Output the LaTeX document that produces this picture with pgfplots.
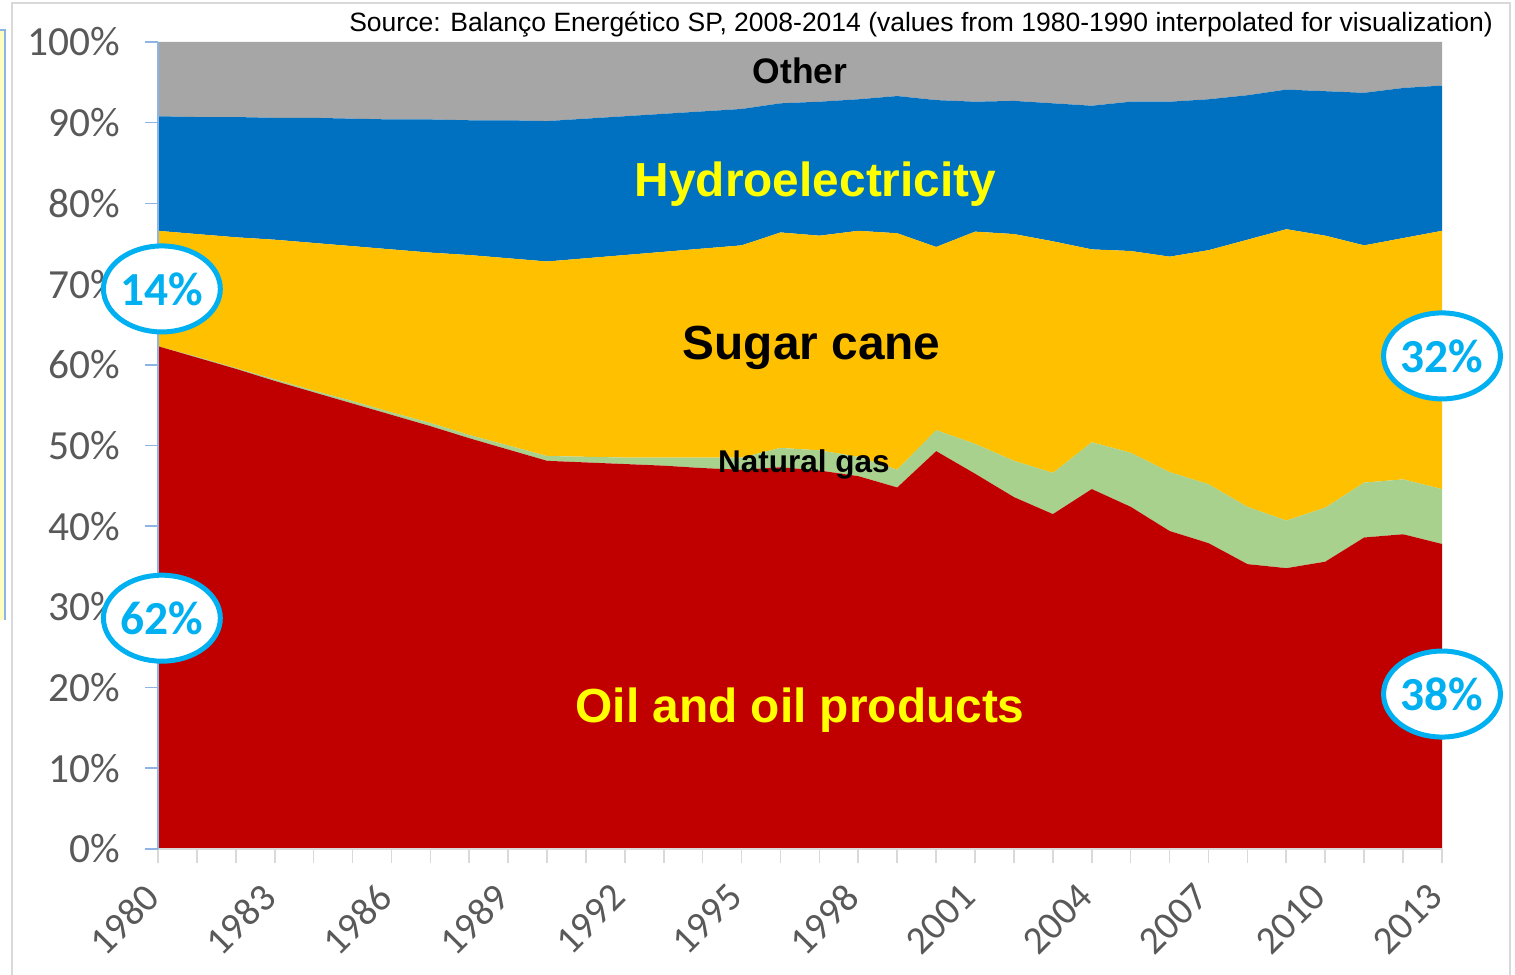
\documentclass[border=0pt]{standalone}
\usepackage{fontspec}
\setmainfont{Liberation Sans}
\newfontfamily\calibri{Carlito}
\usepackage{pgfplots}
\usepackage{pgfplotstable}
\pgfplotsset{compat=1.18}
\usetikzlibrary{shapes.geometric}
\definecolor{oilred}{HTML}{C00000}
\definecolor{gasgreen}{HTML}{A9D18E}
\definecolor{sugargold}{HTML}{FFC000}
\definecolor{hydroblue}{HTML}{0070C0}
\definecolor{othergray}{HTML}{A6A6A6}
\definecolor{ringcyan}{HTML}{00B0F0}
\definecolor{ticklab}{HTML}{595959}
\definecolor{tickgray}{HTML}{D9D9D9}
\definecolor{axblue}{HTML}{8EB4E3}
\definecolor{labyellow}{HTML}{FFFF00}

\pgfplotstableread{
year oil gas sugar hydro other
1980 62.3 0.0 14.3 14.2 9.2
1981 60.9 0.1 15.2 14.5 9.3
1982 59.5 0.1 16.2 14.9 9.3
1983 58.0 0.2 17.3 15.1 9.4
1984 56.6 0.2 18.3 15.5 9.4
1985 55.2 0.3 19.2 15.8 9.5
1986 53.8 0.3 20.2 16.1 9.6
1987 52.4 0.4 21.1 16.5 9.6
1988 50.9 0.4 22.3 16.7 9.7
1989 49.5 0.5 23.2 17.1 9.7
1990 48.1 0.6 24.1 17.4 9.8
1991 47.9 0.7 24.6 17.3 9.5
1992 47.7 0.8 25.1 17.2 9.2
1993 47.5 1.0 25.5 17.1 8.9
1994 47.2 1.3 25.9 17.0 8.6
1995 47.0 1.5 26.3 16.9 8.3
1996 47.3 2.4 26.7 16.0 7.6
1997 46.9 2.5 26.6 16.6 7.4
1998 46.2 2.4 28.0 16.3 7.1
1999 44.8 2.2 29.3 17.0 6.7
2000 49.3 2.6 22.7 18.2 7.2
2001 46.5 3.7 26.3 16.1 7.4
2002 43.6 4.5 28.1 16.5 7.3
2003 41.5 5.1 28.7 17.1 7.6
2004 44.6 5.8 23.9 17.8 7.9
2005 42.4 6.7 25.0 18.5 7.4
2006 39.4 7.3 26.7 19.2 7.4
2007 37.9 7.3 29.0 18.7 7.1
2008 35.3 7.1 33.1 17.9 6.6
2009 34.8 5.9 36.1 17.3 5.9
2010 35.6 6.7 33.7 17.9 6.1
2011 38.6 6.8 29.4 18.9 6.3
2012 39.0 6.8 29.9 18.6 5.7
2013 37.8 6.8 32.0 18.0 5.4
}\energydata

\begin{document}
\begin{tikzpicture}
\useasboundingbox (-79bp,-63bp) rectangle (678.5bp,424.5bp);
% outer chart frame
\draw[tickgray, line width=1bp] (-73bp,-70bp) rectangle (676bp,423bp);
% cropped neighbouring box at the left edge
\fill[yellow!25] (-82bp,114.5bp) rectangle (-76.5bp,409.5bp);
\draw[axblue, line width=0.8bp] (-76.5bp,114.5bp) -- (-76.5bp,409.5bp) -- (-82bp,409.5bp);
\begin{axis}[
  at={(0,0)}, anchor=south west,
  scale only axis, width=642bp, height=403.5bp,
  xmin=1980, xmax=2013, ymin=0, ymax=100,
  stack plots=y, area style,
  clip=false,
  axis x line*=bottom, axis y line*=left,
  x axis line style={draw=tickgray, line width=0.8bp, -},
  y axis line style={draw=axblue, line width=0.8bp, -},
  xtick={1980,1983,...,2013},
  minor xtick={1980,...,2013},
  ytick={0,10,...,100},
  tick align=outside,
  major tick length=6.5bp,
  minor tick length=7bp,
  major x tick style={draw=none},
  minor x tick style={draw=tickgray, line width=0.8bp},
  ytick style={draw=axblue, line width=0.8bp},
  /pgf/number format/assume math mode=true,
  /pgf/number format/1000 sep={},
  ticklabel style={text=ticklab},
  yticklabel={\pgfmathprintnumber{\tick}\%},
  yticklabel style={font=\calibri\fontsize{20.8}{22}\selectfont, xshift=-9bp},
  xticklabel style={font=\calibri\fontsize{19.7}{22}\selectfont, rotate=45, anchor=north east, xshift=-9bp, yshift=2bp},
]
\addplot[fill=oilred, draw=none] table[x=year, y=oil] {\energydata} \closedcycle;
\addplot[fill=gasgreen, draw=none] table[x=year, y=gas] {\energydata} \closedcycle;
\addplot[fill=sugargold, draw=none] table[x=year, y=sugar] {\energydata} \closedcycle;
\addplot[fill=hydroblue, draw=none] table[x=year, y=hydro] {\energydata} \closedcycle;
\addplot[fill=othergray, draw=none] table[x=year, y=other] {\energydata} \closedcycle;

\coordinate (lOther) at (axis cs:1996.5,94.9);
\coordinate (lHydro) at (axis cs:1996.9,80.9);
\coordinate (lSugar) at (axis cs:1996.8,60.6);
\coordinate (lGas) at (axis cs:1996.6,46.7);
\coordinate (lOil) at (axis cs:1996.5,15.7);
\coordinate (r1) at (axis cs:1980.1,69.4);
\coordinate (r2) at (axis cs:1980.1,28.6);
\coordinate (r3) at (axis cs:2013,61.1);
\coordinate (r4) at (axis cs:2013,19.2);
\end{axis}
\node[anchor=base, font=\bfseries\fontsize{17.8}{20}\selectfont] at (lOther) {Other};
\node[anchor=base, font=\bfseries\fontsize{24}{28}\selectfont, text=labyellow] at (lHydro) {Hydroelectricity};
\node[anchor=base, font=\bfseries\fontsize{24}{28}\selectfont] at (lSugar) {Sugar cane};
\node[anchor=base, font=\bfseries\fontsize{15.8}{18}\selectfont] at (lGas) {Natural gas};
\node[anchor=base, font=\bfseries\fontsize{24}{28}\selectfont, text=labyellow] at (lOil) {Oil and oil products};
\tikzset{ring/.style={ellipse, draw=ringcyan, line width=2.5bp, fill=white, minimum width=58bp, minimum height=43bp, inner sep=0pt, text=ringcyan, font=\calibri\bfseries\fontsize{23.8}{26}\selectfont}}
\node[ring] at (r1) {14\%};
\node[ring] at (r2) {62\%};
\node[ring] at (r3) {32\%};
\node[ring] at (r4) {38\%};
\node[anchor=east, font=\fontsize{13.3}{15}\selectfont] at (671bp,412bp) {Source: Balanço Energético SP, 2008-2014 (values from 1980-1990 interpolated for visualization)};
\end{tikzpicture}
\end{document}
